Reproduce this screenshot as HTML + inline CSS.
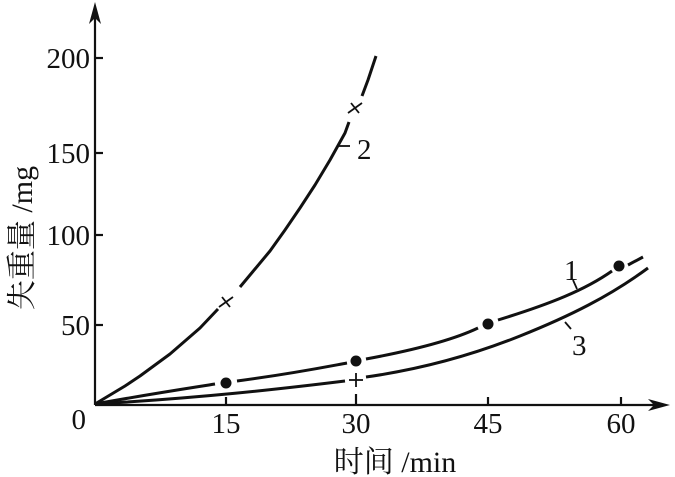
<!DOCTYPE html>
<html><head><meta charset="utf-8"><style>
html,body{margin:0;padding:0;background:#fff;}
svg{display:block;}
text{font-family:"Liberation Serif","Noto Serif CJK SC",serif;fill:#111;}
</style></head><body>
<svg width="675" height="477" viewBox="0 0 675 477" xmlns="http://www.w3.org/2000/svg">
<g stroke="#111" fill="none" stroke-width="2.2">
<line x1="95" y1="405" x2="95" y2="10"/>
<line x1="95" y1="405" x2="660" y2="405"/>
<line x1="95" y1="58" x2="103" y2="58"/>
<line x1="95" y1="153" x2="103" y2="153"/>
<line x1="95" y1="235" x2="103" y2="235"/>
<line x1="95" y1="325" x2="103" y2="325"/>
<line x1="226" y1="405" x2="226" y2="397"/>
<line x1="356" y1="405" x2="356" y2="394"/>
<line x1="488" y1="405" x2="488" y2="397"/>
<line x1="621" y1="405" x2="621" y2="397"/>
</g>
<polygon points="95,2 89,24 95,18 101,24" fill="#111"/>
<polygon points="670,405 648,399 654,405 648,411" fill="#111"/>
<g stroke="#111" fill="none" stroke-width="3" stroke-linejoin="round">
<polyline points="95,404 110,395 125,386 140,376 155,365 170,354 185,341 200,328 218,309"/>
<polyline points="240,287 255,269 270,251 285,230 300,208 315,185 330,160 345,133 349,122"/>
<polyline points="362,96 368,80 376,56"/>
<path d="M95,404 C150,394 190,388 215,384"/>
<path d="M237,381 C290,374 320,368 347,363"/>
<path d="M366,359 C420,349 455,339 478,328"/>
<path d="M498,320 C550,304 585,290 612,271"/>
<path d="M628,265 L643,257"/>
<path d="M95,404 C200,398 280,389 345,381"/>
<path d="M366,377 C430,368 480,352 520,336 C570,316 610,296 648,268"/>
</g>
<g stroke="#111" stroke-width="1.8">
<line x1="219" y1="307" x2="233" y2="297"/><line x1="222" y1="297" x2="230" y2="307"/>
<line x1="348" y1="113" x2="362" y2="103"/><line x1="351" y1="103" x2="359" y2="113"/>
<line x1="349" y1="380" x2="363" y2="380"/><line x1="356" y1="373" x2="356" y2="387"/>
<line x1="337" y1="146" x2="350" y2="146"/>
<line x1="573" y1="280" x2="577" y2="289"/>
<line x1="565" y1="322" x2="571" y2="329"/>
</g>
<g fill="#111">
<circle cx="226" cy="383" r="5.5"/>
<circle cx="356" cy="361" r="5.5"/>
<circle cx="488" cy="324" r="5.5"/>
<circle cx="619" cy="266" r="5.5"/>
</g>
<g font-size="29">
<text x="90" y="68" text-anchor="end">200</text>
<text x="90" y="163" text-anchor="end">150</text>
<text x="90" y="245" text-anchor="end">100</text>
<text x="90" y="335" text-anchor="end">50</text>
<text x="86" y="429" text-anchor="end">0</text>
<text x="226" y="433" text-anchor="middle">15</text>
<text x="356" y="433" text-anchor="middle">30</text>
<text x="488" y="433" text-anchor="middle">45</text>
<text x="621" y="433" text-anchor="middle">60</text>
<text x="357" y="159">2</text>
<text x="564" y="280">1</text>
<text x="572" y="355">3</text>
</g>
<text x="395" y="472" text-anchor="middle" font-size="30">时间 /min</text>
<text transform="translate(32,238) rotate(-90)" text-anchor="middle" font-size="30">失重量 /mg</text>
</svg>
</body></html>
